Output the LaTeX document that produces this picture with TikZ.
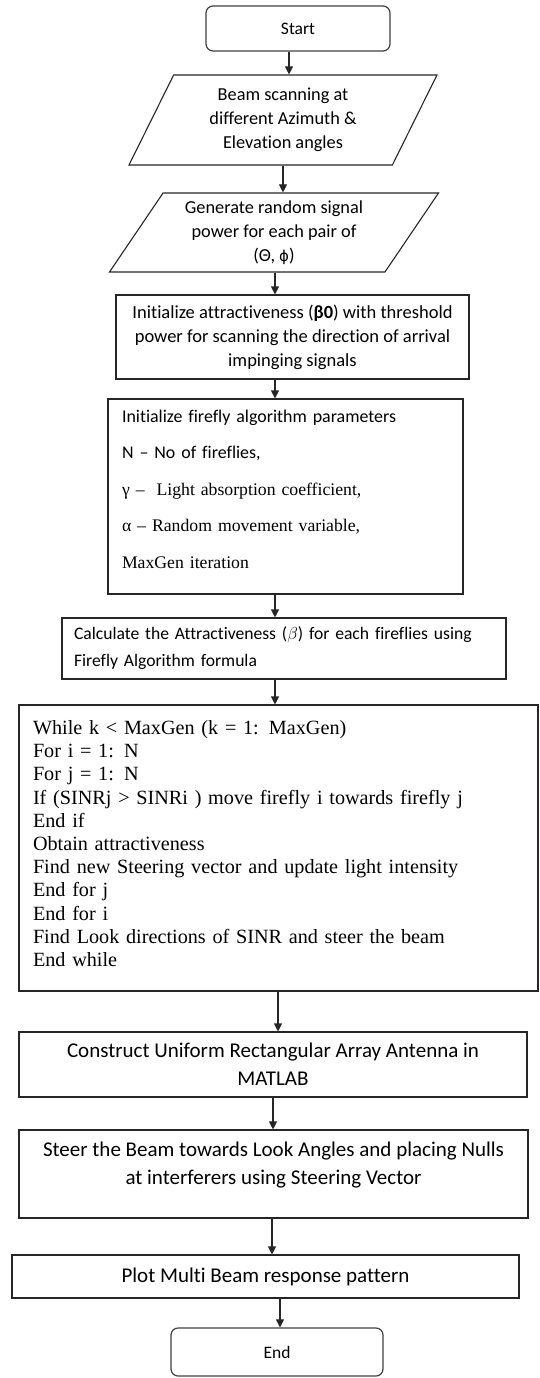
\documentclass[tikz,border=0pt]{standalone}
\usepackage{fontspec}
\setmainfont{Carlito}[Ligatures=NoCommon]
\newfontfamily\timesfont{Liberation Serif}
\newfontfamily\greekfont{DejaVu Sans}
\usetikzlibrary{positioning,shapes.geometric,arrows.meta,calc}

\tikzset{
  terminal/.style={rectangle,draw=black!75,line width=1.2pt,rounded corners=7pt,inner sep=0pt},
  io/.style={trapezium,trapezium stretches body,draw=black!85,line width=1.1pt,inner sep=0pt,align=center,font=\fontsize{18.3}{24}\selectfont},
  procbox/.style={rectangle,draw=black!85,line width=1.1pt,inner sep=0pt},
  flow/.style={-{Triangle[length=8pt,width=8pt]},line width=1.1pt,black!85}
}

\begin{document}
\begin{tikzpicture}[x=1pt,y=-1pt]
    \useasboundingbox (0,0) rectangle (539,1378);

    % terminals and input boxes
    \node[terminal,minimum width=184pt,minimum height=45pt,font=\fontsize{17.5}{20}\selectfont] (start) at (298,28.5) {Start};
    \node[io,trapezium left angle=55,trapezium right angle=125,minimum width=308pt,minimum height=90pt] (scan) at (283,120)
        {Beam scanning at\\different Azimuth \&\\Elevation angles};
    \node[io,trapezium left angle=50,trapezium right angle=130,minimum width=329pt,minimum height=79pt] (gen) at (274,232.5)
        {Generate random signal\\power for each pair of\\(Θ, {\greekfont\fontsize{15}{24}\selectfont ϕ})};

    % process boxes
    \node[procbox,minimum width=353pt,minimum height=84pt,align=center,font=\fontsize{18.5}{24}\selectfont] (init) at (292.5,337)
        {Initialize attractiveness (\textbf{β0}) with threshold\\power for scanning the direction of arrival\\impinging signals};
    \node[procbox,minimum width=355pt,minimum height=195pt,text width=327pt,align=left,font=\fontsize{17.9}{36.5}\selectfont] (params) at (285.5,496.5)
        {Initialize firefly algorithm parameters\\
         N – No of fireflies,\\
         {\timesfont\fontsize{17.7}{36.5}\selectfont γ – \ Light absorption coefficient,}\\
         {\timesfont\fontsize{17.7}{36.5}\selectfont α – Random movement variable,}\\
         {\timesfont\fontsize{17.7}{36.5}\selectfont MaxGen iteration}\\[-22pt]\mbox{}};
    \node[procbox,minimum width=444pt,minimum height=61pt,text width=420pt,align=left,font=\fontsize{17.6}{27}\selectfont] (attract) at (284,648.5)
        {Calculate the Attractiveness ($\beta$) for each fireflies using\\Firefly Algorithm formula};
    \node[procbox,minimum width=519pt,minimum height=286pt,text width=491pt,align=left,font=\timesfont\fontsize{20.2}{23.2}\selectfont] (loop) at (278.5,848)
        {While k < MaxGen (k = 1: MaxGen)\\
         For i = 1: N\\
         For j = 1: N\\
         If (SINRj > SINRi ) move firefly i towards firefly j\\
         End if\\
         Obtain attractiveness\\
         Find new Steering vector and update light intensity\\
         End for j\\
         End for i\\
         Find Look directions of SINR and steer the beam\\
         End while\\[-14pt]\mbox{}};
    \node[procbox,minimum width=508pt,minimum height=65pt,align=center,font=\fontsize{21}{28}\selectfont] (ura) at (273,1064.5)
        {Construct Uniform Rectangular Array Antenna in\\MATLAB};
    \node[procbox,minimum width=509pt,minimum height=88pt,align=center,font=\fontsize{21}{28}\selectfont] (steer) at (273.5,1174)
        {Steer the Beam towards Look Angles and placing Nulls\\at interferers using Steering Vector\\[-6pt]\mbox{}};
    \node[procbox,minimum width=507pt,minimum height=43pt,font=\fontsize{21}{24}\selectfont] (plot) at (265.5,1276.5)
        {Plot Multi Beam response pattern};
    \node[terminal,minimum width=212pt,minimum height=48pt,font=\fontsize{17.5}{20}\selectfont] (stop) at (277,1352) {End};

    % connectors
    \foreach \a/\b/\x in {start/scan/289, scan/gen/283, gen/init/275, init/params/275, params/attract/275,
                          attract/loop/275, loop/ura/278, ura/steer/273, steer/plot/272, plot/stop/280}
        \draw[flow] (\a.south -| \x,0) -- (\b.north -| \x,0);
\end{tikzpicture}
\end{document}
